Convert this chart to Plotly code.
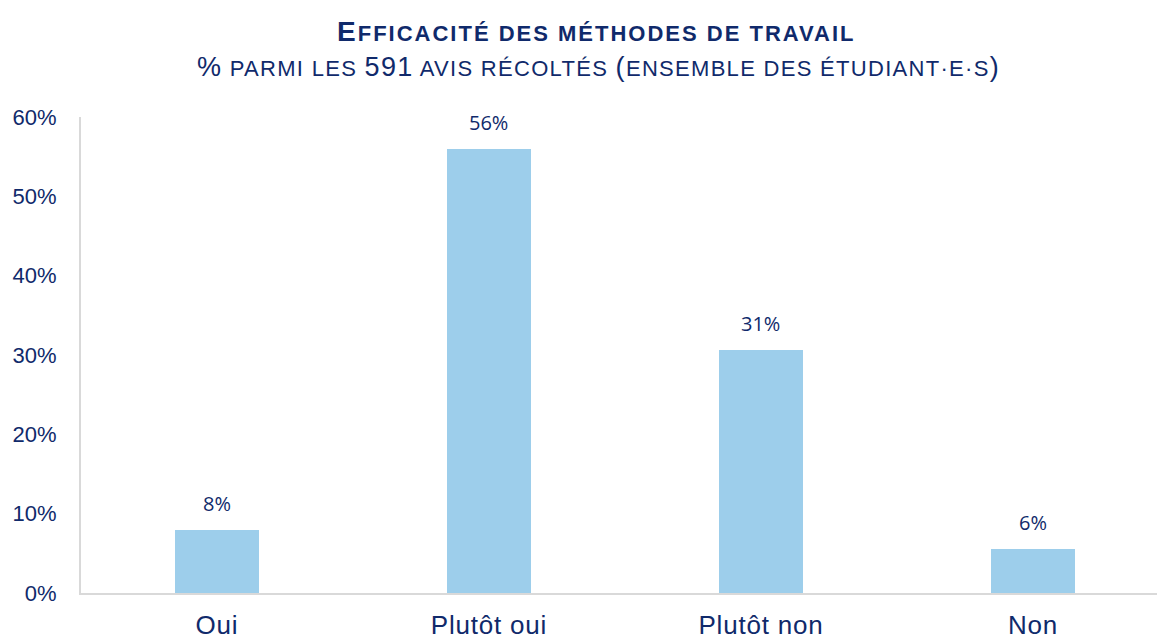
import plotly.graph_objects as go

# Survey answers and their share of the 591 responses (in %)
categories = ["Oui", "Plutôt oui", "Plutôt non", "Non"]
shares = [8.0, 56.0, 30.6, 5.6]
y_tick_values = [0, 10, 20, 30, 40, 50, 60]
y_tick_labels = ["0%", "10%", "20%", "30%", "40%", "50%", "60%"]

title_text = "Efficacité des méthodes de travail"
subtitle_text = "% parmi les 591 avis récoltés (ensemble des étudiant·e·s)"

NAVY = "#102A6B"
BAR = "#9DCEEB"
AXIS = "#D9D9D9"


def small_caps(text, big, small, spacing):
    """Render text as small capitals using sized spans."""
    runs = []
    for ch in text:
        is_small = ch.islower() or ch == " " or ch == "·"
        size = small if is_small else big
        char = ch.upper()
        if runs and runs[-1][0] == size:
            runs[-1][1] += char
        else:
            runs.append([size, char])
    return "".join(
        f"<span style='font-size:{size}px;letter-spacing:{spacing}px'>{chunk}</span>"
        for size, chunk in runs
    )


def spaced(text, spacing):
    return f"<span style='letter-spacing:{spacing}px'>{text}</span>"


fig = go.Figure()
fig.add_trace(go.Bar(
    x=categories,
    y=shares,
    width=0.31,
    marker=dict(color=BAR, line=dict(width=0)),
    hoverinfo="skip",
))

# value labels above each bar
for cat, val in zip(categories, shares):
    fig.add_annotation(
        x=cat, y=val, text=f"{val:.0f}%", showarrow=False,
        yanchor="bottom", yshift=11,
        font=dict(family="Open Sans", size=20, color=NAVY),
    )

fig.add_annotation(
    xref="paper", yref="paper", x=(596.5 - 81) / 1076, y=(597 - 31) / 480,
    text="<b>" + small_caps(title_text, 28, 22, 2.0) + "</b>", showarrow=False,
    xanchor="center", yanchor="middle",
    font=dict(family="Liberation Sans", size=28, color=NAVY),
)
fig.add_annotation(
    xref="paper", yref="paper", x=(598 - 81) / 1076, y=(597 - 67) / 480,
    text=small_caps(subtitle_text, 27, 22, 1.3), showarrow=False,
    xanchor="center", yanchor="middle",
    font=dict(family="Liberation Sans", size=27, color=NAVY),
)

fig.update_layout(
    width=1157, height=640,
    margin=dict(l=81, r=0, t=117, b=43),
    paper_bgcolor="white", plot_bgcolor="white",
    showlegend=False,
    bargap=0,
)
fig.update_xaxes(
    range=[-0.5, 3.456],
    tickvals=categories, ticktext=[spaced(c, 0.8) for c in categories],
    showline=True, linecolor=AXIS, linewidth=2,
    showgrid=False, ticks="",
    tickfont=dict(family="Liberation Sans", size=26, color=NAVY),
    ticklabelstandoff=8,
)
fig.update_yaxes(
    range=[0, 60],
    tickvals=y_tick_values, ticktext=y_tick_labels,
    showline=True, linecolor=AXIS, linewidth=2,
    showgrid=False, zeroline=False, ticks="",
    tickfont=dict(family="Liberation Sans", size=22, color=NAVY),
    ticklabelstandoff=18,
)

fig.write_html("out.html")
